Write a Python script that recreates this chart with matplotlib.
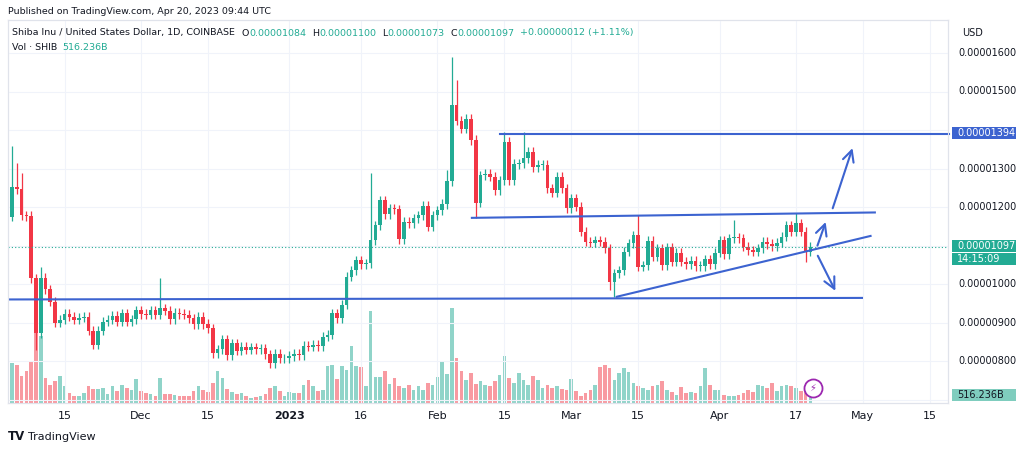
import matplotlib
matplotlib.use("Agg")
import matplotlib.pyplot as plt
import numpy as np
from matplotlib.patches import Rectangle

# prices in units of 1e-8 USD, one candle per day from 2022-11-04 to 2023-04-20
first_open = 1175
closes = [
    1253, 1246, 1179, 1177, 1015, 872, 1017, 986, 954, 900,
    907, 922, 915, 907, 913, 915, 879, 842, 879, 902,
    907, 917, 902, 924, 902, 908, 932, 922, 920, 932,
    920, 937, 931, 908, 926, 922, 920, 911, 896, 915,
    896, 885, 820, 830, 856, 816, 846, 827, 837, 829,
    836, 830, 833, 817, 794, 818, 807, 807, 813, 818,
    816, 839, 837, 842, 839, 863, 868, 924, 911, 946,
    1019, 1036, 1062, 1052, 1054, 1114, 1153, 1218, 1182, 1197,
    1194, 1116, 1162, 1158, 1171, 1179, 1203, 1149, 1179, 1192,
    1208, 1268, 1465, 1424, 1404, 1430, 1374, 1211, 1283, 1286,
    1279, 1244, 1270, 1370, 1270, 1312, 1314, 1327, 1344, 1303,
    1309, 1309, 1249, 1237, 1279, 1249, 1197, 1223, 1201, 1136,
    1110, 1107, 1114, 1110, 1093, 1006, 1028, 1036, 1084, 1106,
    1127, 1045, 1049, 1113, 1071, 1093, 1049, 1095, 1058, 1081,
    1058, 1052, 1061, 1047, 1047, 1064, 1052, 1081, 1114, 1078,
    1119, 1121, 1119, 1097, 1088, 1084, 1093, 1110, 1104, 1099,
    1107, 1123, 1153, 1136, 1158, 1136, 1084, 1097,
]
# notable wick extremes (index -> price)
big_highs = {0: 1359, 1: 1314, 2: 1288, 6: 1045, 31: 1015, 75: 1289, 91: 1296,
             92: 1590, 93: 1530, 103: 1396, 107: 1396, 131: 1179, 151: 1166, 164: 1185}
big_lows = {5: 829, 97: 1171, 125: 984, 126: 967, 166: 1058}
wick = 12

# volume bar heights (relative units)
volumes = [
    120, 115, 80, 95, 125, 230, 200, 75, 55, 65,
    80, 52, 30, 22, 20, 30, 50, 42, 42, 45,
    28, 52, 35, 55, 45, 40, 72, 35, 30, 28,
    20, 75, 28, 28, 25, 22, 20, 20, 35, 52,
    40, 32, 60, 95, 75, 42, 32, 28, 30, 20,
    15, 18, 20, 28, 45, 50, 35, 22, 32, 30,
    30, 55, 70, 52, 35, 38, 110, 115, 72, 110,
    100, 170, 110, 108, 50, 275, 78, 78, 95, 58,
    75, 52, 45, 55, 40, 52, 38, 60, 55, 78,
    122, 88, 285, 135, 95, 68, 90, 58, 65, 55,
    52, 65, 85, 140, 75, 60, 90, 70, 55, 80,
    70, 45, 55, 45, 52, 42, 40, 72, 35, 20,
    30, 40, 55, 108, 115, 105, 70, 90, 105, 92,
    60, 52, 45, 40, 52, 55, 65, 38, 32, 25,
    48, 30, 32, 30, 52, 105, 55, 40, 40, 25,
    20, 20, 25, 30, 40, 32, 55, 52, 45, 60,
    35, 50, 55, 50, 45, 35, 52, 35,
]

tick_pos = [11, 27, 41, 58, 73, 89, 103, 117, 131, 148, 164, 178, 192]
tick_labels = ["15", "Dec", "15", "2023", "16", "Feb", "15", "Mar", "15", "Apr", "17", "May", "15"]
price_ticks = [800, 900, 1000, 1200, 1300, 1500, 1600]

GREEN = "#22ab94"
RED = "#f23645"
BLUE = "#3c63d0"
INK = "#131722"

W, H = 1024, 450
fig = plt.figure(figsize=(W / 100, H / 100), dpi=100)


def fx(x):
    return x / W


def fy(y):
    return 1 - y / H


ax = fig.add_axes([fx(8), fy(403), fx(940), 383 / H])
axv = ax.twinx()
axv.set_zorder(0)
ax.set_zorder(1)
ax.patch.set_visible(False)

n = len(closes)
opens = [first_open] + closes[:-1]
for i in range(n):
    o, c = opens[i], closes[i]
    col = GREEN if c >= o else RED
    hi = big_highs.get(i, max(o, c) + wick)
    lo = big_lows.get(i, min(o, c) - wick)
    ax.vlines(i, lo, hi, color=col, lw=0.9)
    b = max(abs(c - o), 2)
    ax.add_patch(Rectangle((i - 0.38, min(o, c)), 0.76, b, color=col, lw=0))
    axv.bar(i, volumes[i], width=0.76, color=col, alpha=0.5, lw=0)

axv.set_ylim(0, 1149)
axv.set_yticks([])
ax.set_xlim(-0.84, 195.8)
ax.set_ylim(691, 1686)
ax.set_xticks(tick_pos)
ax.set_xticklabels(tick_labels)
ax.set_yticks([])
for tp in tick_pos:
    ax.axvline(tp, color="#f0f3fa", lw=0.8, zorder=0)
for p in range(700, 1700, 100):
    ax.axhline(p, color="#f0f3fa", lw=0.8, zorder=0)
for lab, t in zip(ax.get_xticklabels(), tick_pos):
    lab.set_fontweight("bold" if t == 58 else "normal")
ax.tick_params(axis="x", length=0, labelsize=8, colors=INK, pad=6)
for a in (ax, axv):
    for s in a.spines.values():
        s.set_color("#e0e3eb")

# current price dotted line
ax.axhline(closes[-1], color=GREEN, lw=0.8, ls=(0, (1, 2)))

# drawings
ax.plot([-1, 177.8], [960, 964], color=BLUE, lw=1.5)
ax.plot([102, 196], [1390, 1390], color=BLUE, lw=1.5, clip_on=False)
ax.plot([96.2, 180.5], [1172, 1186], color=BLUE, lw=1.5)
ax.plot([126.5, 179.6], [967, 1125], color=BLUE, lw=1.5)
for (x0, y0, x1, y1) in [(171.5, 1190, 176, 1360), (168.3, 1093, 170.4, 1168), (168.3, 1080, 172.5, 976)]:
    ax.annotate("", xy=(x1, y1), xytext=(x0, y0),
                arrowprops=dict(arrowstyle="->,head_length=0.8,head_width=0.4", color=BLUE, lw=1.5))

# lightning icon
ax.plot(167.5, 731, "o", ms=13, mfc="white", mec="#9c27b0", mew=1.3)
ax.text(167.5, 731, "⚡", color="#9c27b0", ha="center", va="center", fontsize=7)

# price scale labels
for p in price_ticks:
    y = 53 + (1600 - p) * 0.385
    fig.text(fx(958), fy(y), "0.0000%04d" % p, fontsize=7, color=INK, va="center")
fig.text(fx(962), fy(33), "USD", fontsize=7, color=INK, va="center")


def box(y, txt, fc, tc="white", h=12):
    fig.patches.append(Rectangle((fx(952), fy(y + h / 2)), fx(64), h / H, transform=fig.transFigure,
                                 color=fc, lw=0))
    fig.text(fx(957), fy(y), txt, fontsize=7, color=tc, va="center")


box(133, "0.00001394", BLUE)
box(246, "0.00001097", GREEN)
box(259, "14:15:09", GREEN)
box(395, "516.236B", "#7fcdbe", tc=INK)

# header, segments placed one after another
renderer = fig.canvas.get_renderer()


def run_text(x, y, parts, size=6.8):
    for txt, col, gap in parts:
        t = fig.text(fx(x), fy(y), txt, fontsize=size, color=col, va="center")
        x += t.get_window_extent(renderer).width + gap


fig.text(fx(8), fy(11), "Published on TradingView.com, Apr 20, 2023 09:44 UTC", fontsize=6.8, color=INK, va="center")
run_text(12, 33, [("Shiba Inu / United States Dollar, 1D, COINBASE", INK, 7),
                  ("O", INK, 0), ("0.00001084", GREEN, 6),
                  ("H", INK, 0), ("0.00001100", GREEN, 6),
                  ("L", INK, 0), ("0.00001073", GREEN, 6),
                  ("C", INK, 0), ("0.00001097", GREEN, 6),
                  ("+0.00000012 (+1.11%)", GREEN, 0)])
run_text(12, 47, [("Vol · SHIB", INK, 5), ("516.236B", GREEN, 0)])

# footer logo
fig.text(fx(8), fy(437), "TV", fontsize=8.5, color=INK, va="center", fontweight="bold")
fig.text(fx(28), fy(437), "TradingView", fontsize=8, color=INK, va="center")

fig.savefig("out.png", dpi=100)
